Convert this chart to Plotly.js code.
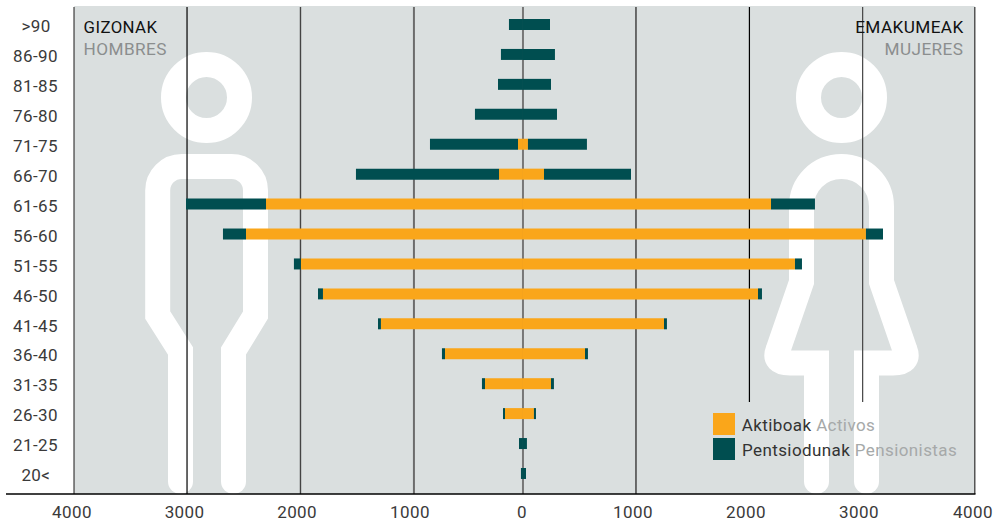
<!DOCTYPE html>
<html><head><meta charset="utf-8">
<script src="https://cdn.plot.ly/plotly-3.0.1.min.js"></script>
<style>html,body{margin:0;padding:0;background:#fff}#chart text{letter-spacing:0.4px}</style>
</head><body><div id="chart" style="width:1004px;height:524px"></div>
<script>
var categories=[">90","86-90","81-85","76-80","71-75","66-70","61-65","56-60","51-55","46-50","41-45","36-40","31-35","26-30","21-25","20<"];
var menActive=[0,0,0,0,44,212,2274,2451,1965,1770,1257,690,336,159,0,0];
var menPension=[124,195,221,425,779,1266,708,204,62,44,26,27,27,18,35,18];
var womenActive=[0,0,0,0,44,186,2195,3035,2407,2080,1248,549,248,97,0,0];
var womenPension=[239,283,248,301,522,770,389,151,62,35,26,26,26,18,35,27];
var tickLabels=["4000","3000","2000","1000","0","1000","2000","3000","4000"];
var tickPositions=[-3991,-2995,-1999,-1000,-9,973,1973,2973,3982];
var gridValues=[-3973,-2973,-1969,-965,0,1000,2004,3006,3998];
var gridColors=["#555","#000","#444","#6c6c6c","#777","#444","#000","#444","#555"];
var gridWidths=[1.4,1.2,1.4,2,2,1.5,1.2,1.2,1.5];
var gridBottoms=[494,494,494,494,494,494,402,402,494];
var ORANGE="#faa61a",TEAL="#004e50",BG="#dadfdf";
var W=1004,H=524,L=6,R=990,T=6,B=494;
function px(x){return (x-L)/(R-L);}
function py(y){return (B-y)/(B-T);}
function path(s){return s.replace(/(-?[\d.]+),(-?[\d.]+)/g,function(m,a,b){return px(+a)+","+py(+b);});}
function neg(a){return a.map(function(v){return -v;});}
function circ(cx,cy,r,fill,lw){return {type:"circle",layer:"below",xref:"paper",yref:"paper",x0:px(cx-r),x1:px(cx+r),y0:py(cy+r),y1:py(cy-r),fillcolor:fill||"rgba(0,0,0,0)",line:{color:"#fff",width:lw||0}};}
function stroke(d){return {type:"path",layer:"below",xref:"paper",yref:"paper",path:path(d),line:{color:"#fff",width:25}};}
var shapes=[{type:"rect",layer:"below",xref:"x",yref:"paper",x0:gridValues[0],x1:gridValues[8],y0:0,y1:1,fillcolor:BG,line:{width:0}}];
// silhouettes
shapes.push(circ(206.5,97.5,33,null,25));
shapes.push(stroke("M180.5,481.5 L180.5,351 L157.7,315 L157.7,190.5 C157.7,177.2 168.4,166.5 181.7,166.5 L231.5,166.5 C244.8,166.5 255.5,177.2 255.5,190.5 L255.5,315 L233.5,351 L233.5,481.5"));
shapes.push(circ(180.5,481.5,12.5,"#fff"));shapes.push(circ(233.5,481.5,12.5,"#fff"));
shapes.push(circ(841.5,97.5,33,null,25));
shapes.push(stroke("M816.5,481.5 L816.5,363 L790,363 Q773,363 778,350 L801.5,282 L801.5,206.5 C801.5,184 819,166.5 841.5,166.5 C864,166.5 881.5,184 881.5,206.5 L881.5,282 L905,350 Q910,363 893,363 L866.5,363 L866.5,481.5"));
shapes.push(circ(816.5,481.5,12.5,"#fff"));shapes.push(circ(866.5,481.5,12.5,"#fff"));
// grid
gridValues.forEach(function(v,i){shapes.push({type:"line",layer:"below",xref:"x",yref:"paper",x0:v,x1:v,y0:py(gridBottoms[i]),y1:py(7),line:{color:gridColors[i],width:gridWidths[i]}});});
// baseline
shapes.push({type:"line",layer:"above",xref:"paper",yref:"paper",x0:0,x1:px(975.5),y0:0,y1:0,line:{color:"#000",width:1.4}});
// legend swatches
shapes.push({type:"rect",layer:"above",xref:"paper",yref:"paper",x0:px(713),x1:px(735),y0:py(435),y1:py(413),fillcolor:ORANGE,line:{width:0}});
shapes.push({type:"rect",layer:"above",xref:"paper",yref:"paper",x0:px(713),x1:px(735),y0:py(460),y1:py(438),fillcolor:TEAL,line:{width:0}});
var FONT="Roboto, sans-serif";
function note(text,x,y,anchor,color,size){return {xref:"paper",yref:"paper",x:px(x),y:py(y),xanchor:anchor,yanchor:"middle",text:text,showarrow:false,borderpad:0,font:{family:FONT,size:size||17,color:color}};}
var annotations=[
 note("GIZONAK",84,27,"left","#111",16.8),
 note("HOMBRES",84,49,"left","#8b8e8e",17.2),
 note("EMAKUMEAK",962.5,27,"right","#111",17.2),
 note("MUJERES",962.5,49,"right","#8b8e8e",17.2),
 note('Aktiboak <span style="color:#a6a9a9">Activos</span>',743.5,425,"left","#333",17),
 note('Pentsiodunak <span style="color:#a6a9a9">Pensionistas</span>',745.5,450,"left","#333",17)
];
categories.forEach(function(c,i){annotations.push({xref:"paper",yref:"y",x:px(35.5),y:i,yshift:-1.7,xanchor:"center",yanchor:"middle",text:c.replace("<","&lt;").replace(">","&gt;"),showarrow:false,borderpad:0,font:{family:FONT,size:17,color:"#3a3a3a"}});});
function bar(name,vals,color){return {type:"bar",orientation:"h",name:name,y:categories,x:vals,width:0.3675,marker:{color:color,line:{width:0}},hoverinfo:"name+y+x"};}
var traces=[
 bar("Gizonak Aktiboak",neg(menActive),ORANGE),
 bar("Gizonak Pentsiodunak",neg(menPension),TEAL),
 bar("Emakumeak Aktiboak",womenActive,ORANGE),
 bar("Emakumeak Pentsiodunak",womenPension,TEAL)
];
var layout={width:W,height:H,autosize:false,showlegend:false,barmode:"relative",
 paper_bgcolor:"#fff",plot_bgcolor:"rgba(0,0,0,0)",
 margin:{l:L,r:W-R,t:T,b:H-B,pad:0},
 xaxis:{range:[-4575,4133],tickmode:"array",tickvals:tickPositions,ticktext:tickLabels,showgrid:false,zeroline:false,showline:false,ticks:"",ticklen:0,ticklabelstandoff:6,tickfont:{family:FONT,size:17,color:"#3a3a3a"}},
 yaxis:{type:"category",categoryorder:"array",categoryarray:categories,range:[15.686,-0.618],showticklabels:false,showgrid:false,zeroline:false,showline:false,ticks:""},
 shapes:shapes,annotations:annotations};
Plotly.newPlot("chart",traces,layout,{displayModeBar:false,staticPlot:true});
</script></body></html>
